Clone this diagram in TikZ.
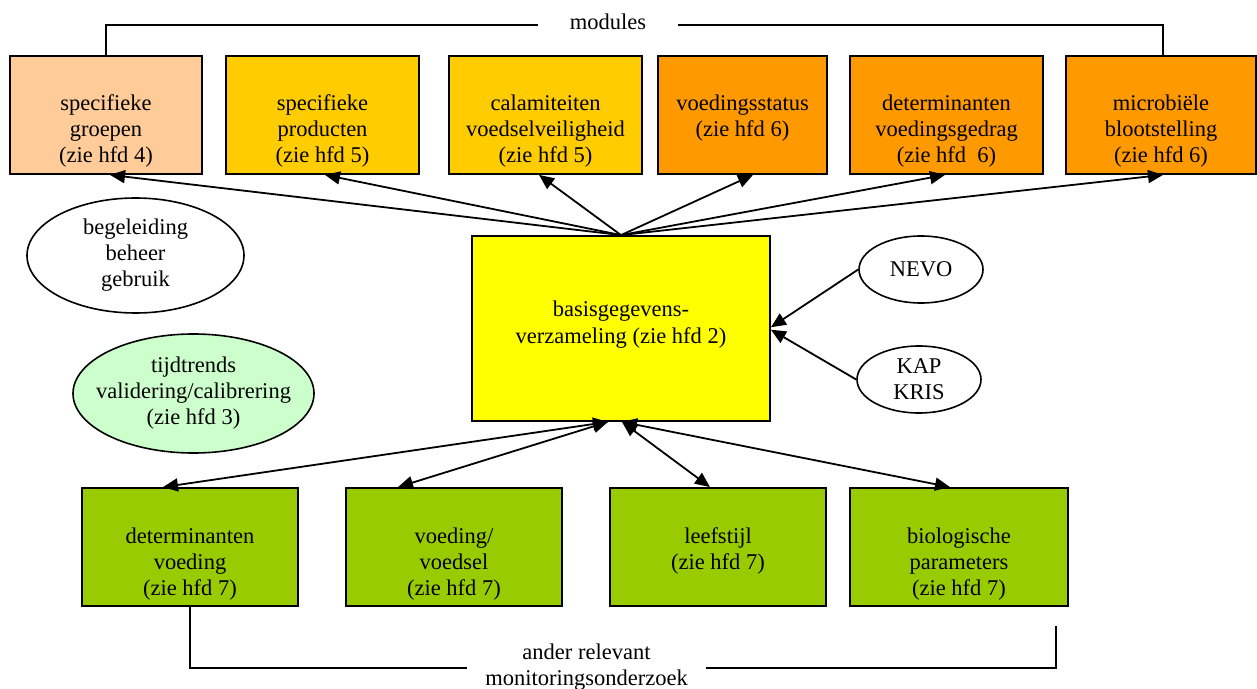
\documentclass[tikz,border=0pt]{standalone}
\usepackage{fontspec}
\setmainfont{Liberation Serif}
\usetikzlibrary{arrows.meta,shapes.geometric}
\definecolor{cPeach}{HTML}{FFCC99}
\definecolor{cGold}{HTML}{FFCC00}
\definecolor{cOrange}{HTML}{FF9900}
\definecolor{cYellow}{HTML}{FFFF00}
\definecolor{cGreen}{HTML}{99CC00}
\definecolor{cLgreen}{HTML}{CCFFCC}
\newcommand\bxt[4]{\parbox[c][#1][t]{#2}{\centering\vspace*{#3}\strut #4\par}}
\begin{document}
\begin{tikzpicture}[x=0.5pt,y=-0.5pt,
  every node/.style={font=\fontsize{11.25pt}{13pt}\selectfont, text=black},
  box/.style={draw=black, line width=0.9pt, inner sep=0pt, rectangle},
  ell/.style={draw=black, line width=0.8pt, ellipse, inner sep=0pt, align=center},
  arr/.style={-{Triangle[length=7.5pt,width=6.5pt]}, line width=0.9pt},
  darr/.style={{Triangle[length=7.5pt,width=6.5pt]}-{Triangle[length=7.5pt,width=6.5pt]}, line width=0.9pt},
  brk/.style={line width=0.8pt}]
\useasboundingbox (0,0) rectangle (1257,689);

% top modules
\node[box, fill=cPeach, minimum width=96pt, minimum height=59pt] (b1) at (106,115)
  {\bxt{59pt}{92pt}{18pt}{specifieke\\groepen\\(zie hfd 4)}};
\node[box, fill=cGold, minimum width=96.5pt, minimum height=59pt] (b2) at (322.5,115)
  {\bxt{59pt}{92pt}{18pt}{specifieke\\producten\\(zie hfd 5)}};
\node[box, fill=cGold, minimum width=96.5pt, minimum height=59pt] (b3) at (545.5,115)
  {\bxt{59pt}{92pt}{18pt}{calamiteiten\\voedselveiligheid\\(zie hfd 5)}};
\node[box, fill=cOrange, minimum width=84.5pt, minimum height=59pt] (b4) at (742.5,115)
  {\bxt{59pt}{82pt}{18pt}{voedingsstatus\\(zie hfd 6)}};
\node[box, fill=cOrange, minimum width=96.5pt, minimum height=59pt] (b5) at (946.5,115)
  {\bxt{59pt}{92pt}{18pt}{determinanten\\voedingsgedrag\\(zie hfd\ \ 6)}};
\node[box, fill=cOrange, minimum width=95pt, minimum height=59pt] (b6) at (1161,115)
  {\bxt{59pt}{92pt}{18pt}{microbiële\\blootstelling\\(zie hfd 6)}};

\node[minimum width=70pt, inner sep=0pt] (mod) at (608,22) {modules};
\draw[brk] (b1.north) |- ([yshift=-1.5pt]mod.west);
\draw[brk] ([yshift=-1.5pt]mod.east) -| ([xshift=1pt]b6.north);

% central box
\node[box, fill=cYellow, minimum width=149pt, minimum height=92.5pt] (y) at (621,328.5)
  {\bxt{92.5pt}{145pt}{31.4pt}{basisgegevens-\\verzameling (zie hfd 2)}};

% ellipses
\node[ell, minimum width=108.5pt, minimum height=57.5pt] (beg) at (135.5,255.5) {begeleiding\\beheer\\gebruik};
\node[ell, fill=cLgreen, minimum width=120.5pt, minimum height=59.5pt] (tij) at (193.5,393.5) {};
\node[align=center, inner sep=0pt] (tijt) at (tij.center) {tijdtrends\\validering/calibrering\\(zie hfd 3)};
\node[ell, minimum width=62pt, minimum height=33.5pt] (nevo) at (921,269.5) {NEVO};
\node[ell, minimum width=62pt, minimum height=33.5pt] (kap) at (919,379.5) {KAP\\KRIS};

% bottom boxes
\node[box, fill=cGreen, minimum width=108pt, minimum height=59pt] (det) at (190,547)
  {\bxt{59pt}{104pt}{18.4pt}{determinanten\\voeding\\(zie hfd 7)}};
\node[box, fill=cGreen, minimum width=108pt, minimum height=59pt] (voe) at (454,547)
  {\bxt{59pt}{104pt}{18.4pt}{voeding/\\voedsel\\(zie hfd 7)}};
\node[box, fill=cGreen, minimum width=108pt, minimum height=59pt] (lee) at (718,547)
  {\bxt{59pt}{104pt}{18.4pt}{leefstijl\\(zie hfd 7)}};
\node[box, fill=cGreen, minimum width=109pt, minimum height=59pt] (bio) at (959,547)
  {\bxt{59pt}{104pt}{18.4pt}{biologische\\parameters\\(zie hfd 7)}};

\node[minimum width=119.5pt, inner sep=0pt, align=center] (ander) at (586.5,667) {ander relevant\\monitoringsonderzoek};
\coordinate (brend) at (1056,626);
\draw[brk] (det.south) |- ([yshift=-0.5pt]ander.west);
\draw[brk] ([yshift=-0.5pt]ander.east) -| (brend);

% arrows top
\draw[arr] (y.north) -- ([xshift=2pt]b1.south);
\draw[arr] (y.north) -- ([xshift=1.25pt]b2.south);
\draw[arr] (y.north) -- ([xshift=-3.25pt]b3.south);
\draw[arr] (y.north) -- ([xshift=5.25pt]b4.south);
\draw[arr] (y.north) -- ([xshift=-0.75pt]b5.south);
\draw[arr] (y.north) -- ([xshift=1pt]b6.south);

% arrows right
\draw[arr] (nevo.west) -- ([yshift=0.6pt]y.east);
\draw[arr] (kap.west) -- ([yshift=-0.6pt]y.east);

% arrows bottom
\draw[darr] ([xshift=-6.5pt]y.south) -- ([xshift=-13.5pt]det.north);
\draw[darr] ([xshift=-6.5pt]y.south) -- ([xshift=-28pt]voe.north);
\draw[darr] ([xshift=0.5pt]y.south) -- ([xshift=-4pt]lee.north);
\draw[darr] ([xshift=0.5pt]y.south) -- ([xshift=-4.5pt]bio.north);
\end{tikzpicture}
\end{document}
